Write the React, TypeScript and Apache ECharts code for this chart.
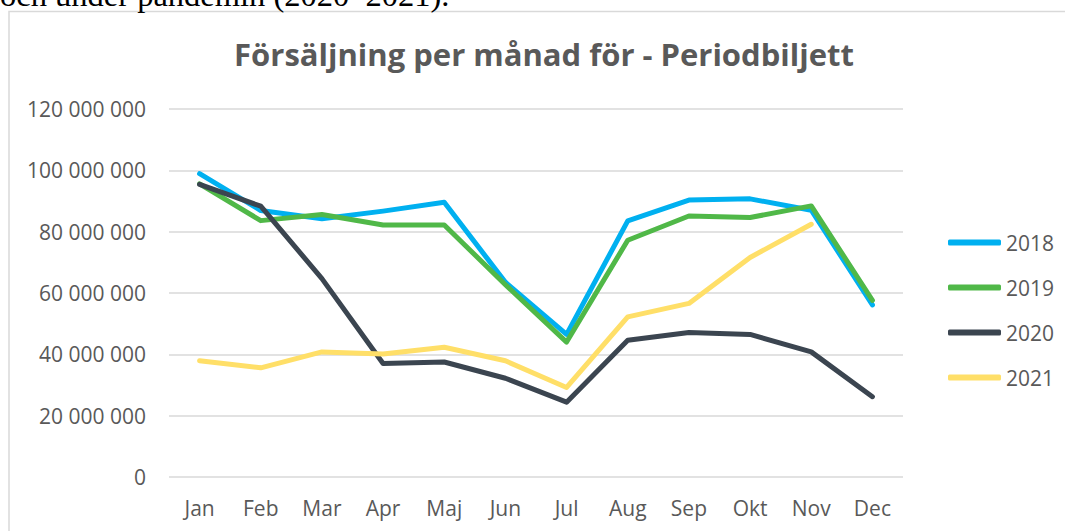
import React, { useEffect, useRef } from "react";
import * as echarts from "echarts";

const months = ["Jan", "Feb", "Mar", "Apr", "Maj", "Jun", "Jul", "Aug", "Sep", "Okt", "Nov", "Dec"];
const s2018 = [98900000, 86900000, 84200000, 86700000, 89600000, 63500000, 46500000, 83500000, 90300000, 90700000, 87000000, 56100000];
const s2019 = [95600000, 83600000, 85600000, 82200000, 82200000, 62700000, 44000000, 77200000, 85100000, 84600000, 88400000, 57600000];
const s2020 = [95400000, 88300000, 64700000, 37000000, 37500000, 32200000, 24400000, 44600000, 47100000, 46500000, 40800000, 26200000];
const s2021 = [37900000, 35600000, 40800000, 40100000, 42300000, 37900000, 29200000, 52200000, 56600000, 71600000, 82400000, null];
const seriesNames = ["2018", "2019", "2020", "2021"];
const seriesColors = ["#00b0f0", "#50b848", "#3b4550", "#ffdf68"];

function fmt(v: number) {
  return String(Math.round(v)).replace(/\B(?=(\d{3})+(?!\d))/g, " ");
}

export default function App() {
  const ref = useRef<HTMLDivElement>(null);
  useEffect(() => {
    if (!ref.current) return;
    const chart = echarts.init(ref.current, null, { renderer: "svg" });
    const data = [s2018, s2019, s2020, s2021];
    chart.setOption({
      animation: false,
      backgroundColor: "#ffffff",
      textStyle: { fontFamily: "Open Sans" },
      title: {
        text: "Försäljning per månad för - Periodbiljett",
        left: 539,
        top: 33,
        textAlign: "center",
        textStyle: { fontFamily: "Open Sans", fontWeight: "bold", fontSize: 31, color: "#595959" },
      },
      graphic: [
        {
          type: "rect",
          shape: { x: 9, y: 11.5, width: 1200, height: 700 },
          style: { fill: "none", stroke: "#d9d9d9", lineWidth: 1.5 },
          silent: true,
        },
        {
          type: "text",
          x: 0,
          y: 11,
          style: {
            text: "och under pandemin (2020–2021).",
            fontFamily: "Liberation Serif",
            fontSize: 32.5,
            fill: "#000000",
            verticalAlign: "bottom",
          },
          silent: true,
        },
      ],
      legend: {
        orient: "vertical",
        left: 943,
        top: 227,
        icon: "roundRect",
        itemWidth: 53,
        itemHeight: 6,
        itemGap: 24,
        data: seriesNames,
        textStyle: { fontFamily: "Open Sans", fontSize: 21, color: "#595959" },
      },
      grid: { left: 169, right: 162, top: 109, bottom: 54, containLabel: false },
      xAxis: {
        type: "category",
        data: months,
        boundaryGap: true,
        axisLine: { show: false },
        axisTick: { show: false },
        axisLabel: { color: "#595959", fontSize: 21, fontFamily: "Open Sans", margin: 20 },
      },
      yAxis: {
        type: "value",
        min: 0,
        max: 120000000,
        interval: 20000000,
        axisLine: { show: false },
        axisTick: { show: false },
        splitLine: { lineStyle: { color: "#d9d9d9", width: 1.5 } },
        axisLabel: { color: "#595959", fontSize: 21, fontFamily: "Open Sans", margin: 23, formatter: (v: number) => fmt(v) },
      },
      series: seriesNames.map((n, i) => ({
        name: n,
        type: "line",
        data: data[i],
        symbol: "none",
        color: seriesColors[i],
        lineStyle: { width: 5, color: seriesColors[i], cap: "round", join: "round" },
        itemStyle: { color: seriesColors[i] },
      })),
    });
    return () => chart.dispose();
  }, []);
  return <div ref={ref} style={{ position: "absolute", left: 0, top: 0, width: 1065, height: 531 }} />;
}
